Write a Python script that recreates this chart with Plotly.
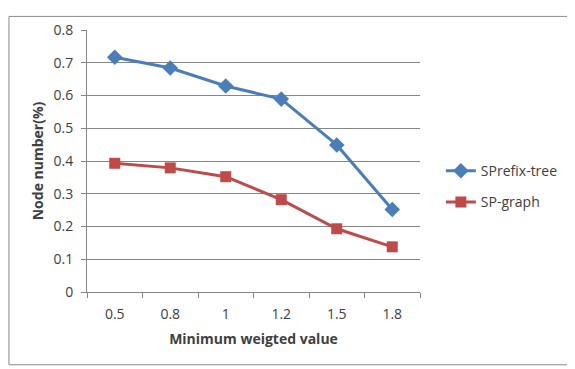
import plotly.graph_objects as go

categories = ["0.5", "0.8", "1", "1.2", "1.5", "1.8"]
sprefix_tree = [0.717, 0.684, 0.629, 0.589, 0.449, 0.252]
sp_graph = [0.393, 0.379, 0.352, 0.282, 0.193, 0.138]
y_ticks = [0, 0.1, 0.2, 0.3, 0.4, 0.5, 0.6, 0.7, 0.8]
y_tick_labels = ["0", "0.1", "0.2", "0.3", "0.4", "0.5", "0.6", "0.7", "0.8"]

FONT = "Open Sans, Lato, sans-serif"
TXT = "#404040"

# page body has an 8px margin: work in figure coordinates = reference - 8
O = 8
W, H = 575 - O, 369 - O
L, R, T, B = 87 - O, 422 - O, 22.5 - O, 292.5 - O
pw, ph = R - L, B - T


def px(x):
    return (x - O - L) / pw


def py(y):
    return (B - (y - O)) / ph


fig = go.Figure()
fig.add_trace(go.Scatter(
    x=categories, y=sprefix_tree, name="SPrefix-tree", mode="lines+markers",
    legendgroup="a",
    line=dict(color="#4a7ebb", width=3),
    marker=dict(symbol="diamond", size=12, color="#4a7ebb"),
))
fig.add_trace(go.Scatter(
    x=categories, y=sp_graph, name="SP-graph", mode="lines+markers",
    legendgroup="b",
    line=dict(color="#be4b48", width=3),
    marker=dict(symbol="square", size=11, color="#be4b48"),
))

fig.update_layout(
    width=W, height=H,
    margin=dict(l=L, r=W - R, t=T, b=H - B, pad=0),
    paper_bgcolor="white", plot_bgcolor="white",
    font=dict(family=FONT, size=14, color=TXT),
    showlegend=True,
    legend=dict(x=px(443), y=py(184), xanchor="left", yanchor="middle",
                font=dict(family=FONT, size=14, color=TXT),
                itemwidth=30, traceorder="grouped", tracegroupgap=10,
                bgcolor="rgba(0,0,0,0)"),
    xaxis=dict(
        type="category", range=[-0.5, 5.5], tickson="boundaries",
        showline=True, linecolor="#868686", linewidth=1,
        ticks="outside", ticklen=5, tickcolor="#868686",
        showgrid=False, zeroline=False, ticklabelstandoff=9,
        tickfont=dict(family=FONT, size=14, color=TXT),
        title=dict(text="<b>Minimum weigted value</b>", standoff=12,
                   font=dict(family=FONT, size=14, color=TXT)),
    ),
    yaxis=dict(
        range=[0, 0.8], tickvals=y_ticks, ticktext=y_tick_labels,
        showline=True, linecolor="#868686", linewidth=1,
        ticks="outside", ticklen=5, tickcolor="#868686",
        showgrid=True, gridcolor="#868686", gridwidth=1, zeroline=False,
        ticklabelstandoff=5,
        tickfont=dict(family=FONT, size=14, color=TXT),
        title=dict(text="<b>Node number(%)</b>", standoff=6,
                   font=dict(family=FONT, size=14, color=TXT)),
    ),
    shapes=[dict(type="rect", xref="paper", yref="paper",
                 x0=(0.5 - L) / pw, x1=px(571.5), y0=py(367.5), y1=(B - 0.5) / ph,
                 line=dict(color="#8c8c8c", width=1), layer="below")],
)

fig.write_html("out.html")
